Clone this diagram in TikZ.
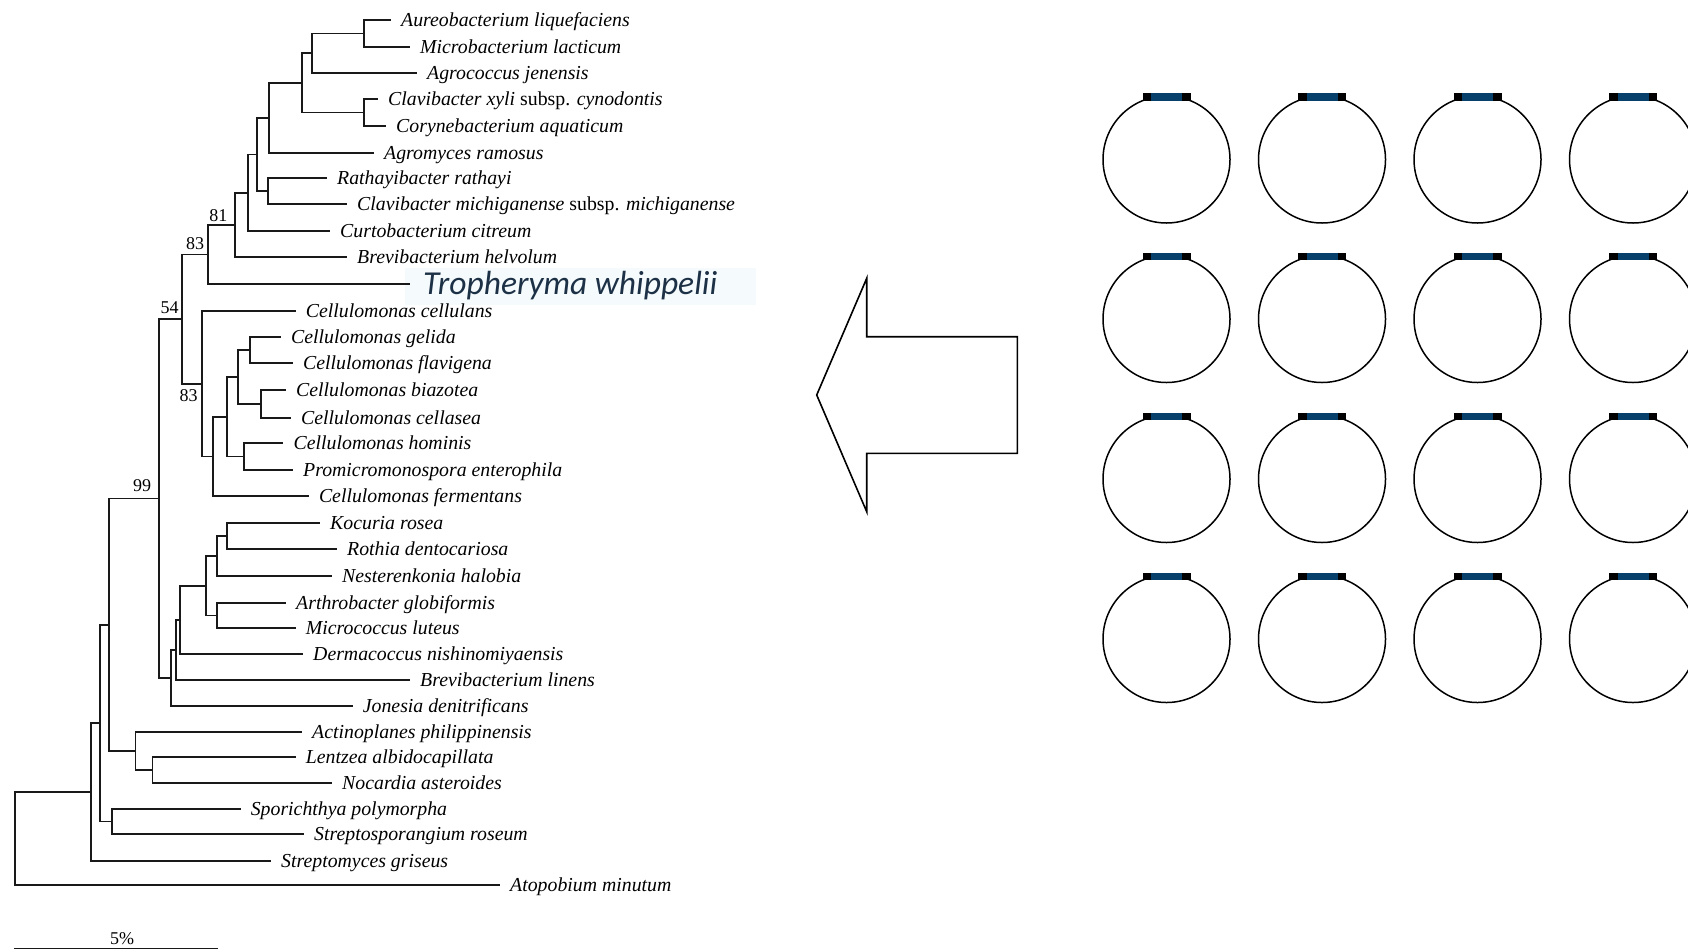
\documentclass[tikz,border=0pt]{standalone}
\usepackage{fontspec}
\setmainfont{Liberation Serif}
\newfontfamily\carlfont{Carlito}
\usetikzlibrary{calc}
\definecolor{barblue}{RGB}{8,64,108}
\definecolor{tropcol}{RGB}{28,48,70}
\definecolor{glow}{RGB}{245,250,252}
\begin{document}
\begin{tikzpicture}[x=1pt,y=-1pt,
  branch/.style={line width=1.8pt, draw=black!90, line cap=rect},
  leaf/.style={anchor=west, inner xsep=11pt, inner ysep=0pt, text height=13.5pt, text depth=0pt,
    font=\fontsize{19.8}{22}\selectfont\itshape, text=black},
  boot/.style={font=\fontsize{18}{20}\selectfont, inner sep=0pt, text=black},
  plasmid/.style={circle, draw=black, line width=1.5pt, minimum size=127pt, inner sep=0pt},
  barblack/.style={rectangle, fill=black, minimum width=48pt, minimum height=7.4pt, inner sep=0pt},
  barmid/.style={rectangle, fill=barblue, minimum width=31pt, minimum height=7.4pt, inner sep=0pt},
  bigarrow/.style={draw=black, line width=1.6pt, line join=miter, fill=white}
]
\useasboundingbox (0,0) rectangle (1688,951);
\fill[white] (0,0) rectangle (1688,951);
\fill[glow] (405,268) rectangle (756,305);

% ---------- leaves ----------
\node[leaf] (t1) at (390,20) {Aureobacterium liquefaciens};
\node[leaf] (t2) at (409,47) {Microbacterium lacticum};
\node[leaf] (t3) at (416,73) {Agrococcus jenensis};
\node[leaf] (t4) at (377,99) {Clavibacter xyli \textup{subsp.} cynodontis};
\node[leaf] (t5) at (385,126) {Corynebacterium aquaticum};
\node[leaf] (t6) at (373,153) {Agromyces ramosus};
\node[leaf] (t7) at (326,178) {Rathayibacter rathayi};
\node[leaf] (t8) at (346,204) {Clavibacter michiganense \textup{subsp.} michiganense};
\node[leaf] (t9) at (329,231) {Curtobacterium citreum};
\node[leaf] (t10) at (346,257) {Brevibacterium helvolum};
\node[leaf, inner xsep=14pt, text=tropcol, text height=21.4pt,
  font=\carlfont\itshape\fontsize{33.5}{36}\selectfont] (t11) at (409,284) {Tropheryma whippelii};
\node[leaf] (t12) at (294.7,311) {Cellulomonas cellulans};
\node[leaf] (t13) at (280,337) {Cellulomonas gelida};
\node[leaf] (t14) at (292,363) {Cellulomonas flavigena};
\node[leaf] (t15) at (285,390) {Cellulomonas biazotea};
\node[leaf] (t16) at (290,418) {Cellulomonas cellasea};
\node[leaf] (t17) at (282.5,443) {Cellulomonas hominis};
\node[leaf] (t18) at (292,470) {Promicromonospora enterophila};
\node[leaf] (t19) at (307.8,496) {Cellulomonas fermentans};
\node[leaf] (t20) at (319,523) {Kocuria rosea};
\node[leaf] (t21) at (336,549) {Rothia dentocariosa};
\node[leaf] (t22) at (331,576) {Nesterenkonia halobia};
\node[leaf] (t23) at (285,603) {Arthrobacter globiformis};
\node[leaf] (t24) at (294.7,628) {Micrococcus luteus};
\node[leaf] (t25) at (302,654) {Dermacoccus nishinomiyaensis};
\node[leaf] (t26) at (409,680) {Brevibacterium linens};
\node[leaf] (t27) at (351.7,706) {Jonesia denitrificans};
\node[leaf] (t28) at (301,732) {Actinoplanes philippinensis};
\node[leaf] (t29) at (294.7,757) {Lentzea albidocapillata};
\node[leaf] (t30) at (331,783) {Nocardia asteroides};
\node[leaf] (t31) at (239.6,809) {Sporichthya polymorpha};
\node[leaf] (t32) at (303,834) {Streptosporangium roseum};
\node[leaf] (t33) at (270,861) {Streptomyces griseus};
\node[leaf] (t34) at (499,885) {Atopobium minutum};

% ---------- internal nodes ----------
\coordinate (A) at (364,33.5);
\coordinate (B) at (312,53.3);
\coordinate (C) at (364,112.5);
\coordinate (D) at (302,82.9);
\coordinate (E) at (269,118);
\coordinate (F) at (268,191);
\coordinate (G) at (257,154.5);
\coordinate (H) at (248,192.8);
\coordinate (N81) at (235,224.9);
\coordinate (N83a) at (208.3,254.5);
\coordinate (GF) at (250,350);
\coordinate (BC) at (260.7,404);
\coordinate (I) at (238.3,377);
\coordinate (HP) at (244,456.5);
\coordinate (J) at (227.3,416.8);
\coordinate (K) at (212.7,456.4);
\coordinate (N83b) at (201.7,383.7);
\coordinate (N54) at (181.7,319.1);
\coordinate (KR) at (226.7,536);
\coordinate (KRN) at (216.7,556);
\coordinate (AM) at (216.7,615.5);
\coordinate (L) at (206,585.8);
\coordinate (M) at (180,619.9);
\coordinate (NN) at (176,649.9);
\coordinate (O) at (170.7,677.9);
\coordinate (N99) at (159.3,498.5);
\coordinate (LN) at (152.5,770);
\coordinate (S) at (135.4,751);
\coordinate (P) at (109.3,624.8);
\coordinate (SR) at (112,821.5);
\coordinate (Q) at (100,723);
\coordinate (R) at (91,792);
\coordinate (ROOT) at (14.6,838.5);

% ---------- branches ----------
\draw[branch] (t1.west) -| (A) |- (t2.west);
\draw[branch] (A) -| (B) |- (t3.west);
\draw[branch] (t4.west) -| (C) |- (t5.west);
\draw[branch] (B) -| (D) |- (C);
\draw[branch] (D) -| (E) |- (t6.west);
\draw[branch] (t7.west) -| (F) |- (t8.west);
\draw[branch] (E) -| (G) |- (F);
\draw[branch] (G) -| (H) |- (t9.west);
\draw[branch] (H) -| (N81) |- (t10.west);
\draw[branch] (N81) -| (N83a) |- (t11.west);
\draw[branch] (t13.west) -| (GF) |- (t14.west);
\draw[branch] (t15.west) -| (BC) |- (t16.west);
\draw[branch] (GF) -| (I) |- (BC);
\draw[branch] (t17.west) -| (HP) |- (t18.west);
\draw[branch] (I) -| (J) |- (HP);
\draw[branch] (J) -| (K) |- (t19.west);
\draw[branch] (t12.west) -| (N83b) |- (K);
\draw[branch] (N83a) -| (N54) |- (N83b);
\draw[branch] (t20.west) -| (KR) |- (t21.west);
\draw[branch] (KR) -| (KRN) |- (t22.west);
\draw[branch] (t23.west) -| (AM) |- (t24.west);
\draw[branch] (KRN) -| (L) |- (AM);
\draw[branch] (L) -| (M) |- (t25.west);
\draw[branch] (M) -| (NN) |- (t26.west);
\draw[branch] (NN) -| (O) |- (t27.west);
\draw[branch] (N54) -| (N99) |- (O);
\draw[branch] (t29.west) -| (LN) |- (t30.west);
\draw[branch] (t28.west) -| (S) |- (LN);
\draw[branch] (N99) -| (P) |- (S);
\draw[branch] (t31.west) -| (SR) |- (t32.west);
\draw[branch] (P) -| (Q) |- (SR);
\draw[branch] (Q) -| (R) |- (t33.west);
\draw[branch] (R) -| (ROOT) |- (t34.west);

% ---------- bootstrap values ----------
\node[boot] (b81) at (218.3,216) {81};
\node[boot] (b83a) at (195,244) {83};
\node[boot] (b54) at (169.5,308) {54};
\node[boot] (b83b) at (188.7,395.5) {83};
\node[boot] (b99) at (142,486) {99};

% ---------- scale bar ----------
\coordinate (sbL) at (14.6,948.5);
\coordinate (sbR) at (216.7,948.5);
\draw[branch] (sbL) -- (sbR);
\node[boot] (s5) at (122,939) {5\%};

% ---------- big arrow ----------
\draw[bigarrow] (816.7,395) -- (866.7,278.3) -- (866.7,336.7) -- (1017.3,336.7)
  -- (1017.3,453.3) -- (866.7,453.3) -- (866.7,511.7) -- cycle;

% ---------- plasmid grid ----------
\foreach \i/\cx in {1/1166.5,2/1322,3/1477.5,4/1633}{
  \foreach \j/\cy in {1/159.5,2/319,3/479,4/639}{
    \node[plasmid] (c\j\i) at (\cx,\cy) {};
    \node[barblack] (k\j\i) at ($(c\j\i.center)+(0,-62.5)$) {};
    \node[barmid] (m\j\i) at (k\j\i.center) {};
  }
}
\end{tikzpicture}
\end{document}
